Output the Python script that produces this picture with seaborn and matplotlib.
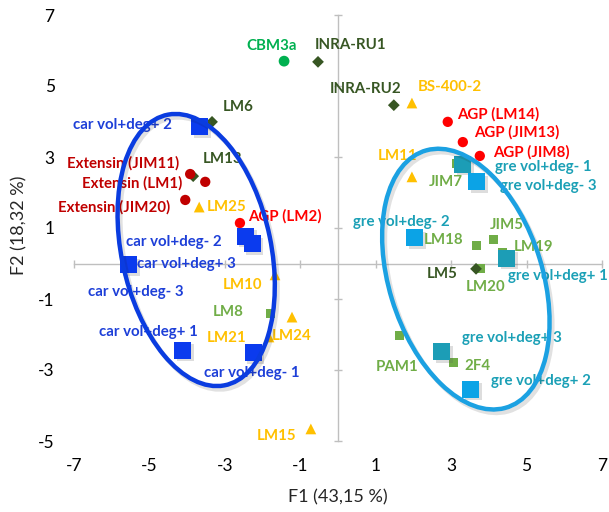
import numpy as np
import pandas as pd
import seaborn as sns
import matplotlib.pyplot as plt
from matplotlib.patches import Ellipse
import matplotlib.patheffects as pe

sns.set_theme(style="white")
plt.rcParams['font.family'] = ['Lato', 'DejaVu Sans']

# ---- factor scores (F1, F2) per sample / probe ----
car_labels = ["car vol+deg+ 1", "car vol+deg+ 2", "car vol+deg+ 3",
              "car vol+deg- 1", "car vol+deg- 2", "car vol+deg- 3"]
car_x = [-4.11, -3.66, -2.28, -2.25, -2.46, -5.56]
car_y = [-2.44, 3.85, 0.55, -2.52, 0.77, -0.04]

gre_labels = ["gre vol+deg+ 1", "gre vol+deg+ 2", "gre vol+deg+ 3",
              "gre vol+deg- 1", "gre vol+deg- 2", "gre vol+deg- 3"]
gre_x = [4.48, 3.52, 2.75, 3.31, 2.04, 3.68]
gre_y = [0.15, -3.54, -2.49, 2.80, 0.72, 2.30]

ext_labels = ["Extensin (JIM11)", "Extensin (LM1)", "Extensin (JIM20)"]
ext_x = [-3.92, -3.52, -4.05]
ext_y = [2.52, 2.30, 1.79]

agp_labels = ["AGP (LM2)", "AGP (LM14)", "AGP (JIM13)", "AGP (JIM8)"]
agp_x = [-2.60, 2.91, 3.31, 3.76]
agp_y = [1.14, 3.99, 3.42, 3.03]

dg_labels = ["LM6", "LM13", "INRA-RU1", "INRA-RU2", "LM5"]
dg_x = [-3.34, -3.84, -0.53, 1.48, 3.66]
dg_y = [3.99, 2.46, 5.68, 4.46, -0.15]

yl_labels = ["BS-400-2", "LM11", "LM25", "LM10", "LM24", "LM21", "LM15"]
yl_x = [1.96, 1.96, -3.68, -1.67, -1.22, -1.83, -0.72]
yl_y = [4.52, 2.44, 1.59, -0.32, -1.51, -2.07, -4.66]

lg_labels = ["JIM7", "LM18", "JIM5", "LM19", "LM20", "LM8", "PAM1", "2F4"]
lg_x = [3.13, 3.68, 4.11, 4.37, 3.79, -1.80, 1.62, 3.05]
lg_y = [2.83, 0.52, 0.69, 0.32, -0.15, -1.42, -2.02, -2.80]

cbm_labels = ["CBM3a"]
cbm_x = [-1.43]
cbm_y = [5.70]

x_ticks = [-7, -5, -3, -1, 1, 3, 5, 7]
y_ticks = [-5, -3, -1, 1, 3, 5, 7]
x_title = "F1 (43,15 %)"
y_title = "F2 (18,32 %)"

# ---- styling per group ----
groups = [
    # name, labels, x, y, marker, size, text colour
    ("car", car_labels, car_x, car_y, "s", 150, "#1D3FD8"),
    ("gre", gre_labels, gre_x, gre_y, "s", 150, "#1BA0B6"),
    ("lg", lg_labels, lg_x, lg_y, "s", 42, "#70AD47"),
    ("dg", dg_labels, dg_x, dg_y, "D", 36, "#375623"),
    ("yl", yl_labels, yl_x, yl_y, "^", 60, "#FFC000"),
    ("ext", ext_labels, ext_x, ext_y, "o", 55, "#C00000"),
    ("agp", agp_labels, agp_x, agp_y, "o", 55, "#FF0000"),
    ("cbm", cbm_labels, cbm_x, cbm_y, "o", 60, "#00B050"),
]
marker_colors = {
    "car": "#0B3BEE", "lg": "#70AD47", "dg": "#375623", "yl": "#FFC000",
    "ext": "#C00000", "agp": "#FF0000", "cbm": "#00B050",
}
gre_shade = {"gre vol+deg+ 1": "#1C9DB6", "gre vol+deg+ 3": "#1C9DB6",
             "gre vol+deg- 1": "#1C9DB6", "gre vol+deg+ 2": "#0BA3E6",
             "gre vol+deg- 2": "#0BA3E6", "gre vol+deg- 3": "#0BA3E6"}

# label placement: (dx px, dy px downward, horizontal alignment)
label_pos = {
    "car vol+deg+ 2": (-28, -2, "right"), "car vol+deg- 2": (-23, 6, "right"),
    "car vol+deg+ 3": (-16, 20, "right"), "car vol+deg- 3": (8, 27, "center"),
    "car vol+deg+ 1": (-35, -18, "center"), "car vol+deg- 1": (-1, 20, "center"),
    "gre vol+deg- 1": (32, 3, "left"), "gre vol+deg- 3": (23, 4, "left"),
    "gre vol+deg- 2": (-14, -16, "center"), "gre vol+deg+ 1": (1, 18, "left"),
    "gre vol+deg+ 3": (20, -14, "left"), "gre vol+deg+ 2": (20, -8, "left"),
    "Extensin (JIM11)": (-11, -11, "right"), "Extensin (LM1)": (-23, 1, "right"),
    "Extensin (JIM20)": (-15, 7, "right"),
    "AGP (LM2)": (8, -7, "left"), "AGP (LM14)": (9, -8, "left"),
    "AGP (JIM13)": (11, -10, "left"), "AGP (JIM8)": (13, -4, "left"),
    "LM6": (11, -15, "left"), "LM13": (10, -17, "left"),
    "INRA-RU1": (-3, -17, "left"), "INRA-RU2": (-28, -16, "center"),
    "LM5": (-18, 5, "right"),
    "BS-400-2": (6, -16, "left"), "LM11": (-14, -21, "center"),
    "LM25": (8, 0, "left"), "LM10": (-13, 10, "right"),
    "LM24": (0, 19, "center"), "LM21": (-22, 1, "right"),
    "LM15": (-14, 7, "right"),
    "JIM7": (-10, 19, "center"), "LM18": (-13, -5, "right"),
    "JIM5": (14, -14, "center"), "LM19": (11, -5, "left"),
    "LM20": (5, 18, "center"), "LM8": (-26, -2, "right"),
    "PAM1": (-2, 32, "center"), "2F4": (11, 3, "left"),
    "CBM3a": (-12, -15, "center"),
}

frames = []
for name, labs, xs, ys, *_ in groups:
    frames.append(pd.DataFrame({"group": name, "label": labs, "F1": xs, "F2": ys}))
df = pd.concat(frames, ignore_index=True)

fig = plt.figure(figsize=(6.09, 5.12), dpi=100)
ax = fig.add_axes([74 / 609, 1 - 441 / 512, 528 / 609, 426 / 512])

shadow = [pe.SimplePatchShadow(offset=(2, -2), shadow_rgbFace=(0.35, 0.35, 0.35),
                               alpha=0.2), pe.Normal()]

for name, labs, xs, ys, marker, size, tcol in groups:
    sub = df[df["group"] == name]
    if name == "gre":
        for shade in ["#1C9DB6", "#0BA3E6"]:
            part = sub[sub["label"].map(gre_shade) == shade]
            sns.scatterplot(data=part, x="F1", y="F2", marker=marker, s=size,
                            color=shade, edgecolor="none", ax=ax, zorder=3)
            ax.collections[-1].set_path_effects(shadow)
    else:
        sns.scatterplot(data=sub, x="F1", y="F2", marker=marker, s=size,
                        color=marker_colors[name], edgecolor="none", ax=ax,
                        zorder=3 if name == "car" else 2)
        if name == "car":
            ax.collections[-1].set_path_effects(shadow)
    for _, row in sub.iterrows():
        dx, dy, ha = label_pos[row["label"]]
        ax.annotate(row["label"], (row["F1"], row["F2"]), xytext=(dx, -dy),
                    textcoords="offset pixels", ha=ha, va="center",
                    fontsize=10.8, fontweight="bold", color=tcol, zorder=4)

# group outlines
line_shadow = [pe.SimpleLineShadow(offset=(2, -2.5), shadow_color="k", alpha=0.13),
               pe.Normal()]
for (cx, cy, w, h, ang, col) in [(-3.76, 0.38, 3.97, 7.77, 11, "#0A3CE0"),
                                 (3.39, -0.44, 4.08, 7.55, 16, "#1BA1E2")]:
    ell = Ellipse((cx, cy), w, h, angle=ang, fill=False, edgecolor=col,
                  linewidth=3.2, zorder=5)
    ell.set_path_effects(line_shadow)
    ax.add_patch(ell)

ax.set_xlim(-7, 7)
ax.set_ylim(-5, 7)
ax.set_xticks(x_ticks)
ax.set_yticks(y_ticks)
ax.set_xticklabels([str(t) for t in x_ticks])
ax.set_yticklabels([str(t) for t in y_ticks])

for side in ["top", "right"]:
    ax.spines[side].set_visible(False)
for side in ["left", "bottom"]:
    ax.spines[side].set_position(("data", 0))
    ax.spines[side].set_color("#BFBFBF")
    ax.spines[side].set_linewidth(1.0)
    ax.spines[side].set_zorder(1)

ax.tick_params(axis="both", direction="inout", length=6, width=1.0,
               color="#BFBFBF", labelsize=12.5, labelcolor="#000000")
ax.tick_params(axis="x", bottom=True, pad=137)
ax.tick_params(axis="y", left=True, pad=201)

ax.set_xlabel("")
ax.set_ylabel("")
fig.text(338 / 609, 1 - 497 / 512, x_title, ha="center", va="center", fontsize=13)
fig.text(19 / 609, 1 - 225 / 512, y_title, ha="center", va="center",
         rotation=90, fontsize=13)

fig.savefig("out.png", dpi=100)
